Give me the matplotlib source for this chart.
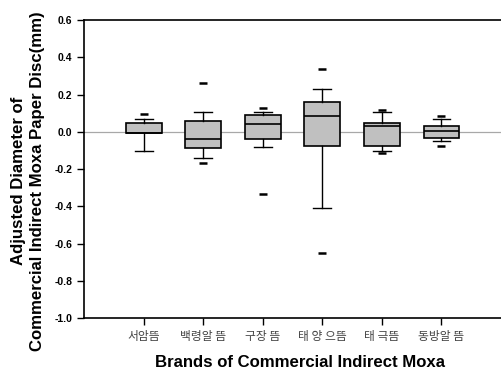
import matplotlib
matplotlib.use("Agg")
import matplotlib.pyplot as plt

### Box statistics (SigmaPlot style, 5th/95th outliers)
brands = ["서암뜸", "백령알 뜸", "구장 뜸", "태 양 으뜸", "태 극뜸", "동방알 뜸"]
q1 = [-0.005, -0.089, -0.039, -0.077, -0.075, -0.035]
med = [-0.005, -0.041, 0.040, 0.086, 0.031, 0.004]
q3 = [0.045, 0.058, 0.090, 0.158, 0.045, 0.032]
whislo = [-0.105, -0.141, -0.082, -0.409, -0.105, -0.050]
whishi = [0.070, 0.108, 0.104, 0.228, 0.104, 0.070]
out_lo = [-0.105, -0.166, -0.336, -0.651, -0.116, -0.075]
out_hi = [0.095, 0.260, 0.129, 0.337, 0.118, 0.085]

stats = []
for i in range(len(brands)):
    fl = [out_hi[i]]
    if out_lo[i] < whislo[i]:
        fl.append(out_lo[i])
    stats.append(dict(med=med[i], q1=q1[i], q3=q3[i],
                      whislo=whislo[i], whishi=whishi[i], fliers=fl))

plt.rcParams['font.family'] = ['Liberation Sans', 'DejaVu Sans']

fig = plt.figure(figsize=(5.01, 3.72), dpi=100)
ax = fig.add_axes([0.168, 0.145, 0.832, 0.801])

ax.axhline(0, color="#a8a8a8", lw=0.9, zorder=0)

pos = list(range(1, len(brands) + 1))
ax.bxp(stats, positions=pos, widths=0.6, patch_artist=True,
       boxprops=dict(facecolor="#c0c0c0", edgecolor="black", lw=1.2),
       medianprops=dict(color="black", lw=1.2),
       whiskerprops=dict(color="black", lw=1.0),
       capprops=dict(color="black", lw=1.0),
       capwidths=0.3,
       flierprops=dict(marker="_", markersize=6, markeredgewidth=1.8,
                       markeredgecolor="black", linestyle="none"))

ax.set_xlim(0, 7)
ax.set_ylim(-1.0, 0.6)
ax.set_yticks([-1.0, -0.8, -0.6, -0.4, -0.2, 0.0, 0.2, 0.4, 0.6])
ax.set_yticklabels(["%.1f" % v for v in ax.get_yticks()], fontsize=7.5, fontweight="bold")
ax.set_xticks(pos)
ax.set_xticklabels(brands, fontsize=8.5, color="#444444",
                   family=["Noto Sans CJK KR", "DejaVu Sans"])
ax.tick_params(direction="out", length=5, width=1.0, top=False, right=False)
ax.spines['right'].set_visible(False)
for s in ['left', 'bottom', 'top']:
    ax.spines[s].set_linewidth(1.2)

ax.set_ylabel("Adjusted Diameter of\nCommercial Indirect Moxa Paper Disc(mm)",
              fontsize=12.1, fontweight="bold", linespacing=1.3)
ax.yaxis.set_label_coords(-0.095, 0.46)
ax.set_xlabel("Brands of Commercial Indirect Moxa", fontsize=12.1,
              fontweight="bold")
ax.xaxis.set_label_coords(0.517, -0.124)

plt.savefig("out.png", dpi=100)
